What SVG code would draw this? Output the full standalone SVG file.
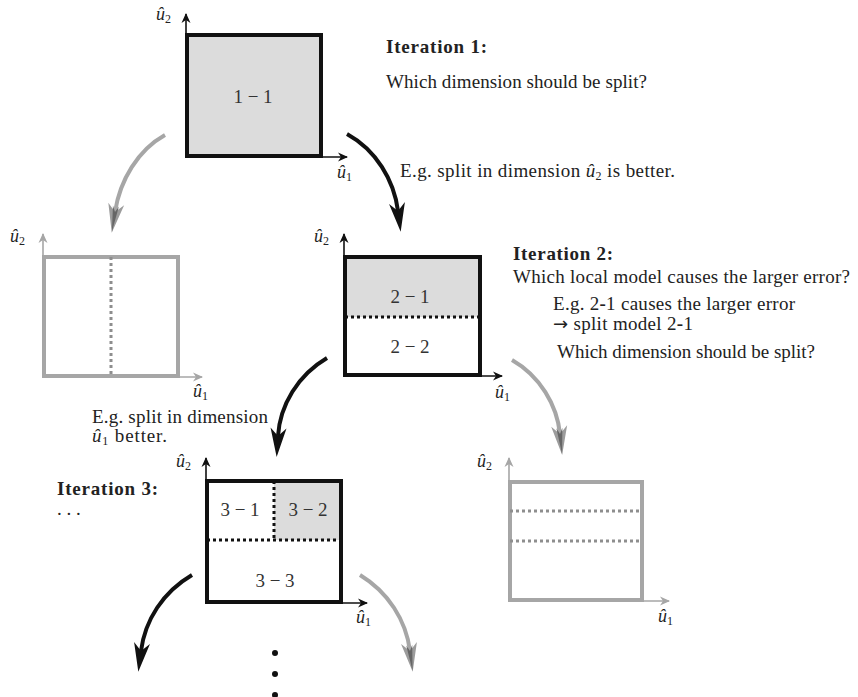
<svg xmlns="http://www.w3.org/2000/svg" width="858" height="697" viewBox="0 0 858 697">
<style>
text{font-family:"Liberation Serif","Times New Roman",serif;fill:#222}
.t{font-size:19px}
.b{font-size:19px;font-weight:bold}
.ax{font-size:18px}
.ax .u{font-style:italic}
.sub{font-size:12px;font-style:normal}
.in{font-size:19px;fill:#333;text-anchor:middle}
.box{fill:none;stroke:#111;stroke-width:4}
.gbox{fill:none;stroke:#a6a6a6;stroke-width:4}
.shade{fill:#dcdcdc}
.dot{stroke:#111;stroke-width:3;stroke-dasharray:3 3;fill:none}
.gdot{stroke:#8e8e8e;stroke-width:3;stroke-dasharray:3 3;fill:none}
.axis{stroke:#111;stroke-width:1.6;fill:none;marker-end:url(#ah)}
.gaxis{stroke:#a6a6a6;stroke-width:1.6;fill:none;marker-end:url(#ahg)}
.arr{stroke:#111;stroke-width:4;fill:none;marker-end:url(#st)}
.garr{stroke:#a6a6a6;stroke-width:4;fill:none;marker-end:url(#stg)}
</style>
<defs>
<marker id="ah" markerUnits="userSpaceOnUse" viewBox="-10 -5 12 10" markerWidth="12" markerHeight="10" refX="0" refY="0" orient="auto" overflow="visible"><path d="M1,0 L-9,-4.5 L-6,0 L-9,4.5 Z" fill="#111"/></marker>
<marker id="ahg" markerUnits="userSpaceOnUse" viewBox="-10 -5 12 10" markerWidth="12" markerHeight="10" refX="0" refY="0" orient="auto" overflow="visible"><path d="M1,0 L-9,-4.5 L-6,0 L-9,4.5 Z" fill="#a6a6a6"/></marker>
<marker id="st" markerUnits="userSpaceOnUse" viewBox="-10 -10 33 20" markerWidth="33" markerHeight="20" refX="0" refY="0" orient="auto" overflow="visible"><path d="M21,0 L-8,-8 L0,0 L-8,8 Z" fill="#111"/></marker>
<marker id="stg" markerUnits="userSpaceOnUse" viewBox="-10 -10 33 20" markerWidth="33" markerHeight="20" refX="0" refY="0" orient="auto" overflow="visible"><path d="M21,0 L-8,-8 L0,0 L-8,8 Z" fill="#9c9c9c"/><path d="M20,0 L-6,-3 L0,0 L-6,3 Z" fill="#666"/></marker>
</defs>
<rect width="858" height="697" fill="#fff"/>

<g id="connectors">
<path class="garr" d="M165,135 C138,150 120,180 115,212"/>
<path class="arr" d="M347,134 C376,150 394,180 398,211"/>
<path class="arr" d="M327,358 C298,375 280,405 278,436"/>
<path class="garr" d="M512,360 C540,376 557,405 560,434"/>
<path class="arr" d="M192,575 C163,592 145,620 141,651"/>
<path class="garr" d="M360,575 C388,592 406,620 410,651"/>
</g>

<g id="node-1-1">
<rect class="shade" x="187" y="35" width="134" height="121"/>
<rect class="box" x="187" y="35" width="134" height="121"/>
<path class="axis" d="M186,157 V14"/>
<path class="axis" d="M186,157 H347"/>
<text class="in" x="253" y="103">1 − 1</text>
<text class="ax" x="156" y="20"><tspan class="u">û</tspan><tspan class="sub" dy="3">2</tspan></text>
<text class="ax" x="337" y="178"><tspan class="u">û</tspan><tspan class="sub" dy="3">1</tspan></text>
</g>

<g id="node-split-u1-rejected">
<rect class="gbox" x="44" y="257" width="134" height="119"/>
<path class="gdot" d="M111,257 V375"/>
<path class="gaxis" d="M43,377 V234"/>
<path class="gaxis" d="M43,377 H202"/>
<text class="ax" x="10" y="242"><tspan class="u">û</tspan><tspan class="sub" dy="3">2</tspan></text>
<text class="ax" x="193" y="397"><tspan class="u">û</tspan><tspan class="sub" dy="3">1</tspan></text>
</g>

<g id="node-iteration-2">
<rect class="shade" x="345" y="257" width="135" height="60"/>
<rect class="box" x="345" y="257" width="135" height="118"/>
<path class="dot" d="M345,317 H480"/>
<path class="axis" d="M344,376 V234"/>
<path class="axis" d="M344,376 H502"/>
<text class="in" x="410" y="303">2 − 1</text>
<text class="in" x="410" y="353">2 − 2</text>
<text class="ax" x="314" y="242"><tspan class="u">û</tspan><tspan class="sub" dy="3">2</tspan></text>
<text class="ax" x="495" y="398"><tspan class="u">û</tspan><tspan class="sub" dy="3">1</tspan></text>
</g>

<g id="node-split-u2-rejected">
<rect class="gbox" x="510" y="482" width="132" height="118"/>
<path class="gdot" d="M510,511 H642"/>
<path class="gdot" d="M510,541 H642"/>
<path class="gaxis" d="M509,601 V458"/>
<path class="gaxis" d="M509,601 H669"/>
<text class="ax" x="477" y="467"><tspan class="u">û</tspan><tspan class="sub" dy="3">2</tspan></text>
<text class="ax" x="658" y="622"><tspan class="u">û</tspan><tspan class="sub" dy="3">1</tspan></text>
</g>

<g id="node-iteration-3">
<rect class="shade" x="274" y="481" width="67" height="59"/>
<rect class="box" x="207" y="481" width="134" height="121"/>
<path class="dot" d="M274,481 V540"/>
<path class="dot" d="M207,540 H341"/>
<path class="axis" d="M206,603 V458"/>
<path class="axis" d="M206,603 H367"/>
<text class="in" x="240" y="516">3 − 1</text>
<text class="in" x="308" y="516">3 − 2</text>
<text class="in" x="275" y="587">3 − 3</text>
<text class="ax" x="176" y="467"><tspan class="u">û</tspan><tspan class="sub" dy="3">2</tspan></text>
<text class="ax" x="356" y="623"><tspan class="u">û</tspan><tspan class="sub" dy="3">1</tspan></text>
</g>

<g id="continuation">
<circle cx="275" cy="653" r="3" fill="#111"/>
<circle cx="275" cy="674" r="3" fill="#111"/>
<circle cx="275" cy="695" r="3" fill="#111"/>
</g>

<g id="annotations">
<text class="b" x="386" y="53" textLength="101">Iteration 1:</text>
<text class="t" x="386" y="88" textLength="261">Which dimension should be split?</text>
<text class="t" x="400" y="177" textLength="275">E.g. split in dimension <tspan font-style="italic">û</tspan><tspan class="sub" dy="3">2</tspan><tspan dy="-3"> is better.</tspan></text>
<text class="b" x="513" y="260" textLength="100">Iteration 2:</text>
<text class="t" x="513" y="283" textLength="337">Which local model causes the larger error?</text>
<text class="t" x="553" y="310" textLength="242">E.g. 2<tspan font-weight="bold">-</tspan>1 causes the larger error</text>
<text class="t" x="553" y="330" textLength="140"><tspan font-family="DejaVu Sans" font-size="18">→</tspan> split model 2<tspan font-weight="bold">-</tspan>1</text>
<text class="t" x="557" y="358" textLength="258">Which dimension should be split?</text>
<text class="t" x="92" y="423" textLength="176">E.g. split in dimension</text>
<text class="t" x="92" y="442" textLength="75"><tspan font-style="italic">û</tspan><tspan class="sub" dy="3">1</tspan><tspan dy="-3"> better.</tspan></text>
<text class="b" x="57" y="495" textLength="101">Iteration 3:</text>
<text class="t" x="57" y="515">. . .</text>
</g>
</svg>
